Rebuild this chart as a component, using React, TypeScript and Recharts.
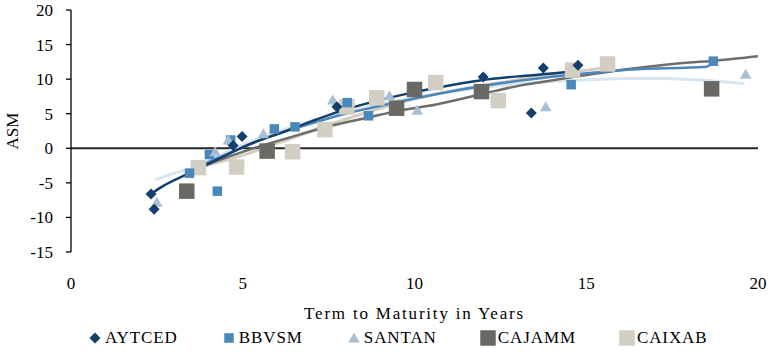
import React from 'react';
import {
  ComposedChart,
  Scatter,
  Line,
  XAxis,
  YAxis,
  ReferenceLine,
  Legend,
} from 'recharts';

// [term to maturity in years, ASM]
const aytced = [[2.33, -6.6], [2.42, -8.8], [4.72, 0.4], [4.98, 1.7], [7.74, 6.0], [12.0, 10.3], [13.4, 5.1], [13.75, 11.6], [14.76, 12.0]];
const bbvsm = [[3.45, -3.6], [4.03, -0.9], [4.26, -6.2], [4.65, 1.2], [5.92, 2.8], [6.52, 3.1], [8.04, 6.6], [8.66, 4.7], [14.56, 9.2], [18.7, 12.6]];
const santan = [[2.5, -7.8], [4.2, -0.5], [4.58, 1.2], [5.6, 2.1], [7.62, 7.0], [9.27, 7.6], [10.08, 5.5], [13.82, 6.0], [19.64, 10.7]];
const cajamm = [[3.37, -6.2], [5.71, -0.4], [9.48, 5.8], [10.0, 8.5], [11.95, 8.2], [18.65, 8.6]];
const caixab = [[3.71, -2.8], [4.82, -2.7], [6.45, -0.5], [7.39, 2.7], [8.03, 6.0], [8.9, 7.3], [10.62, 9.5], [12.44, 6.9], [14.6, 11.3], [15.62, 12.2]];

// trend lines
const aytcedTrend = [[2.33, -6.6], [2.7, -5.4], [3.4, -3.7], [4.1, -2.0], [4.6, -0.8], [5.2, 0.6], [6.1, 2.2], [7.0, 3.9], [7.8, 5.3], [8.7, 6.6], [9.7, 7.8], [10.7, 8.8], [11.9, 9.8], [13.0, 10.4], [14.0, 10.8], [14.8, 11.2]];
const bbvsmTrend = [[3.45, -3.6], [4.0, -2.0], [4.7, -0.5], [5.9, 1.9], [6.6, 3.0], [8.0, 5.0], [8.7, 5.8], [10.0, 7.2], [12.5, 9.4], [14.5, 10.6], [16.3, 11.4], [18.5, 11.8], [18.7, 12.5]];
const santanTrend = [[2.45, -4.6], [3.0, -3.6], [3.5, -2.9], [4.6, -0.4], [5.5, 1.5], [6.5, 3.2], [7.5, 4.6], [8.5, 5.8], [10.0, 7.3], [11.5, 8.5], [13.0, 9.3], [14.6, 9.8], [16.3, 10.1], [17.3, 10.1], [18.5, 9.8], [19.6, 9.35]];
const cajammTrend = [[3.37, -3.4], [4.0, -2.3], [4.6, -1.2], [5.5, 0.3], [6.6, 1.9], [7.6, 3.3], [8.7, 4.5], [9.5, 5.4], [10.6, 6.3], [12.0, 7.9], [13.1, 9.1], [14.5, 10.2], [16.3, 11.5], [18.0, 12.4], [18.6, 12.6], [20.0, 13.3]];
const caixabTrend = [[3.7, -2.8], [4.6, -1.6], [5.5, -0.2], [6.5, 1.6], [7.5, 3.4], [8.5, 5.0], [9.5, 6.5], [10.6, 7.8], [11.5, 8.7], [12.5, 9.5], [13.5, 10.3], [14.6, 11.0], [15.6, 11.7]];

const xTicks = [0, 5, 10, 15, 20];
const yTicks = [-15, -10, -5, 0, 5, 10, 15, 20];

const toRows = (pts: number[][]) => pts.map(([t, v]) => ({ t, v }));

const FONT = '"Liberation Serif", "Times New Roman", serif';

const NAVY = '#123f6b';
const BLUE = '#4a87ba';
const STEEL = '#a9bfd4';
const GREY = '#6a6965';
const BEIGE = '#d2cec4';
const PALE = '#d7e6f0';

type Kind = 'diamond' | 'square' | 'big' | 'triangle';

function Marker({ kind, cx, cy, fill }: { kind: Kind; cx: number; cy: number; fill: string }) {
  if (kind === 'diamond') {
    const r = 5.5;
    return <path d={`M${cx},${cy - r}L${cx + r},${cy}L${cx},${cy + r}L${cx - r},${cy}Z`} fill={fill} />;
  }
  if (kind === 'triangle') {
    return <path d={`M${cx},${cy - 5.5}L${cx + 5.8},${cy + 4.5}L${cx - 5.8},${cy + 4.5}Z`} fill={fill} />;
  }
  const s = kind === 'big' ? 15.5 : 9.5;
  return <rect x={cx - s / 2} y={cy - s / 2} width={s} height={s} fill={fill} />;
}

const shapeOf = (kind: Kind, fill: string) => (props: any) =>
  props.cx == null ? <g /> : <Marker kind={kind} cx={props.cx} cy={props.cy} fill={fill} />;

const legendItems: { name: string; kind: Kind; color: string }[] = [
  { name: 'AYTCED', kind: 'diamond', color: NAVY },
  { name: 'BBVSM', kind: 'square', color: BLUE },
  { name: 'SANTAN', kind: 'triangle', color: STEEL },
  { name: 'CAJAMM', kind: 'big', color: GREY },
  { name: 'CAIXAB', kind: 'big', color: BEIGE },
];

function ChartLegend() {
  return (
    <div
      style={{
        height: 30,
        display: 'flex',
        alignItems: 'center',
        paddingLeft: 85,
        gap: 41,
        fontFamily: FONT,
        fontSize: 17,
        color: '#000',
        letterSpacing: 0.9,
      }}
    >
      {legendItems.map((it) => (
        <div key={it.name} style={{ display: 'flex', alignItems: 'center', paddingTop: 2 }}>
          <svg width={20} height={20} style={{ overflow: 'visible' }}>
            <Marker kind={it.kind} cx={10} cy={10} fill={it.color} />
          </svg>
          <span>{it.name}</span>
        </div>
      ))}
    </div>
  );
}

export default function App() {
  return (
    <div style={{ position: 'absolute', left: 0, top: 0 }}>
      <ComposedChart
        width={768}
        height={352}
        margin={{ top: 10, right: 10, bottom: 0, left: 0 }}
        style={{ fontFamily: FONT }}
      >
        <XAxis
          dataKey="t"
          type="number"
          domain={[0, 20]}
          ticks={xTicks}
          axisLine={false}
          tickLine={false}
          tickSize={0}
          tickMargin={25}
          height={70}
          tick={{ fill: '#000', fontSize: 17, fontFamily: FONT }}
          label={{
            value: 'Term to Maturity in Years',
            position: 'insideBottom',
            offset: 3,
            style: { fill: '#000', fontSize: 17, fontFamily: FONT, letterSpacing: 1.8 },
          }}
        />
        <YAxis
          dataKey="v"
          type="number"
          domain={[-15, 20]}
          ticks={yTicks}
          width={71}
          axisLine={{ stroke: '#000', strokeWidth: 1.3 }}
          tickLine={{ stroke: '#000', strokeWidth: 1.3 }}
          tickSize={5}
          tickMargin={13}
          tick={{ fill: '#000', fontSize: 17, fontFamily: FONT }}
          label={{
            value: 'ASM',
            angle: -90,
            position: 'insideLeft',
            offset: 12,
            style: { fill: '#000', fontSize: 17, fontFamily: FONT, textAnchor: 'middle' },
          }}
        />
        <ReferenceLine y={0} stroke="#262626" strokeWidth={2} />
        <Legend verticalAlign="bottom" content={() => <ChartLegend />} />

        <Scatter name="CAIXAB" data={toRows(caixab)} fill={BEIGE} shape={shapeOf('big', BEIGE)} isAnimationActive={false} />
        <Scatter name="CAJAMM" data={toRows(cajamm)} fill={GREY} shape={shapeOf('big', GREY)} isAnimationActive={false} />
        <Scatter name="BBVSM" data={toRows(bbvsm)} fill={BLUE} shape={shapeOf('square', BLUE)} isAnimationActive={false} />
        <Scatter name="SANTAN" data={toRows(santan)} fill={STEEL} shape={shapeOf('triangle', STEEL)} isAnimationActive={false} />
        <Scatter name="AYTCED" data={toRows(aytced)} fill={NAVY} shape={shapeOf('diamond', NAVY)} isAnimationActive={false} />

        <Line data={toRows(santanTrend)} dataKey="v" type="monotone" stroke={PALE} strokeWidth={3} dot={false} isAnimationActive={false} />
        <Line data={toRows(caixabTrend)} dataKey="v" type="monotone" stroke={BEIGE} strokeWidth={3} dot={false} isAnimationActive={false} />
        <Line data={toRows(cajammTrend)} dataKey="v" type="monotone" stroke="#6e6d6a" strokeWidth={2.5} dot={false} isAnimationActive={false} />
        <Line data={toRows(bbvsmTrend)} dataKey="v" type="monotone" stroke={BLUE} strokeWidth={2.5} dot={false} isAnimationActive={false} />
        <Line data={toRows(aytcedTrend)} dataKey="v" type="monotone" stroke={NAVY} strokeWidth={2.5} dot={false} isAnimationActive={false} />
      </ComposedChart>
    </div>
  );
}
